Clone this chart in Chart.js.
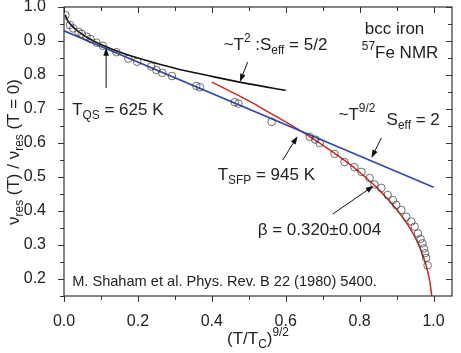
<!DOCTYPE html>
<html>
<head>
<meta charset="utf-8">
<script src="https://cdn.jsdelivr.net/npm/chart.js@4.4.1/dist/chart.umd.min.js"></script>
<style>
  body { margin: 0; background: #fff; }
  canvas { display: block; }
</style>
</head>
<body>
<canvas id="nmrChart" width="461" height="353"></canvas>
<script>
// tick labels
const xTicks = [0.0, 0.2, 0.4, 0.6, 0.8, 1.0];
const yTicks = [0.2, 0.3, 0.4, 0.5, 0.6, 0.7, 0.8, 0.9, 1.0];

// measured points: x = (T/Tc)^(9/2), y = nu(T)/nu(0)
const measX = [0.004, 0.016, 0.025, 0.039, 0.048, 0.061, 0.072, 0.088, 0.105, 0.142,
  0.174, 0.198, 0.236, 0.250, 0.266, 0.292, 0.358, 0.368, 0.462, 0.472,
  0.562, 0.665, 0.680, 0.692, 0.732, 0.759, 0.786, 0.805, 0.827, 0.840,
  0.859, 0.876, 0.890, 0.899, 0.913, 0.926, 0.940, 0.949, 0.958, 0.965,
  0.970, 0.974, 0.977, 0.980, 0.984];
const measY = [0.976, 0.947, 0.937, 0.927, 0.921, 0.913, 0.906, 0.895, 0.886, 0.867,
  0.848, 0.839, 0.825, 0.815, 0.806, 0.797, 0.768, 0.764, 0.720, 0.716,
  0.662, 0.618, 0.610, 0.600, 0.568, 0.544, 0.529, 0.515, 0.497, 0.478,
  0.468, 0.447, 0.432, 0.418, 0.403, 0.383, 0.369, 0.354, 0.334, 0.318,
  0.305, 0.290, 0.276, 0.262, 0.240];

// ~T^2 curve (black)
const t2X = [0.003, 0.01, 0.02, 0.04, 0.07, 0.10, 0.15, 0.20, 0.30, 0.40, 0.50, 0.60];
const t2Y = [0.977, 0.960, 0.946, 0.927, 0.906, 0.890, 0.868, 0.850, 0.820, 0.796, 0.774, 0.755];

// ~T^(9/2) line (blue)
const t92X = [0.0, 1.0];
const t92Y = [0.930, 0.470];

// critical curve, beta = 0.320 (red)
const critX = [0.40, 0.45, 0.50, 0.55, 0.60, 0.65, 0.70, 0.75, 0.80, 0.85, 0.90, 0.93, 0.95, 0.97, 0.98, 0.99, 0.996];
const critY = [0.779, 0.752, 0.724, 0.693, 0.662, 0.629, 0.594, 0.556, 0.514, 0.465, 0.405, 0.360, 0.323, 0.273, 0.240, 0.192, 0.143];

const pts = (xs, ys) => xs.map((x, i) => ({ x: x, y: ys[i] }));

const FONT = '"Liberation Sans", Arial, Helvetica, sans-serif';
const INK = '#222';

// annotations, positioned in data units
const labels = [
  { x: 0.022, y: 0.697, parts: [['T'], ['QS', 'sub'], [' = 625 K']] },
  { x: 0.432, y: 0.888, parts: [['~T'], ['2', 'sup'], [' :S'], ['eff', 'sub'], [' = 5/2']] },
  { x: 0.814, y: 0.935, parts: [['bcc iron']] },
  { x: 0.806, y: 0.865, parts: [['57', 'sup'], ['Fe NMR']] },
  { x: 0.743, y: 0.682, parts: [['~T'], ['9/2', 'sup']] },
  { x: 0.873, y: 0.668, parts: [['S'], ['eff', 'sub'], [' = 2']] },
  { x: 0.416, y: 0.506, parts: [['T'], ['SFP', 'sub'], [' = 945 K']] },
  { x: 0.524, y: 0.344, parts: [['\u03b2 = 0.320\u00b10.004']] },
  { x: 0.022, y: 0.191, parts: [['M. Shaham et al. Phys. Rev. B 22 (1980) 5400.']], size: 14.6 }
];

const arrows = [
  { x1: 0.114, y1: 0.762, x2: 0.114, y2: 0.880 },
  { x1: 0.497, y1: 0.838, x2: 0.476, y2: 0.780 },
  { x1: 0.859, y1: 0.615, x2: 0.832, y2: 0.556 },
  { x1: 0.592, y1: 0.550, x2: 0.632, y2: 0.620 },
  { x1: 0.727, y1: 0.391, x2: 0.838, y2: 0.474 }
];

function drawRich(ctx, parts, x, y, size, measureOnly) {
  let cx = x;
  parts.forEach(p => {
    const kind = p[1];
    const fs = kind ? size * 0.7 : size;
    ctx.font = fs + 'px ' + FONT;
    const dy = kind === 'sub' ? size * 0.32 : kind === 'sup' ? -size * 0.36 : 0;
    if (!measureOnly) ctx.fillText(p[0], cx, y + dy);
    cx += ctx.measureText(p[0]).width;
  });
  return cx - x;
}

function arrow(ctx, x1, y1, x2, y2) {
  const a = Math.atan2(y2 - y1, x2 - x1);
  const len = 8, half = 2.8;
  ctx.beginPath();
  ctx.moveTo(x1, y1);
  ctx.lineTo(x2 - Math.cos(a) * len * 0.8, y2 - Math.sin(a) * len * 0.8);
  ctx.stroke();
  ctx.beginPath();
  ctx.moveTo(x2, y2);
  ctx.lineTo(x2 - Math.cos(a) * len + Math.sin(a) * half, y2 - Math.sin(a) * len - Math.cos(a) * half);
  ctx.lineTo(x2 - Math.cos(a) * len - Math.sin(a) * half, y2 - Math.sin(a) * len + Math.cos(a) * half);
  ctx.closePath();
  ctx.fill();
}

// frame, minor/major ticks, annotations and axis titles
const decorPlugin = {
  id: 'decor',
  afterDraw(chart) {
    const ctx = chart.ctx;
    const xs = chart.scales.x, ys = chart.scales.y;
    const a = chart.chartArea;
    ctx.save();
    ctx.strokeStyle = '#333';
    ctx.fillStyle = INK;
    ctx.lineWidth = 1.2;
    ctx.strokeRect(a.left, a.top, a.right - a.left, a.bottom - a.top);

    ctx.lineWidth = 1;
    ctx.beginPath();
    for (let i = 0; i <= 10; i++) {
      const v = i / 10;
      const px = Math.round(xs.getPixelForValue(v)) + 0.5;
      const L = i % 2 === 0 ? 6 : 4;
      ctx.moveTo(px, a.bottom); ctx.lineTo(px, a.bottom + L);
      ctx.moveTo(px, a.top); ctx.lineTo(px, a.top + L);
    }
    for (let i = 0; i <= 16; i++) {
      const v = 0.2 + i * 0.05;
      if (v > 1.0001) break;
      const py = Math.round(ys.getPixelForValue(v)) + 0.5;
      const L = i % 2 === 0 ? 6 : 4;
      ctx.moveTo(a.left, py); ctx.lineTo(a.left - L, py);
      ctx.moveTo(a.right, py); ctx.lineTo(a.right - L, py);
    }
    const py15 = Math.round(ys.getPixelForValue(0.15)) + 0.5;
    ctx.moveTo(a.left, py15); ctx.lineTo(a.left - 4, py15);
    ctx.stroke();

    // arrows
    ctx.lineWidth = 1;
    ctx.strokeStyle = '#111';
    ctx.fillStyle = '#111';
    arrows.forEach(r => arrow(ctx,
      xs.getPixelForValue(r.x1), ys.getPixelForValue(r.y1),
      xs.getPixelForValue(r.x2), ys.getPixelForValue(r.y2)));

    // labels
    ctx.fillStyle = INK;
    ctx.textBaseline = 'middle';
    ctx.textAlign = 'left';
    labels.forEach(l => drawRich(ctx, l.parts,
      xs.getPixelForValue(l.x), ys.getPixelForValue(l.y), l.size || 17));

    // x title
    const xt = [['(T/T'], ['C', 'sub'], [')'], ['9/2', 'sup']];
    const wx = drawRich(ctx, xt, 0, 0, 17, true);
    drawRich(ctx, xt, (a.left + a.right) / 2 - wx / 2, 339, 17);

    // y title
    const yt = [['\u03bd'], ['res', 'sub'], [' (T) / \u03bd'], ['res', 'sub'], [' (T = 0)']];
    const wy = drawRich(ctx, yt, 0, 0, 17, true);
    ctx.translate(14, 152);
    ctx.rotate(-Math.PI / 2);
    drawRich(ctx, yt, -wy / 2, 0, 17);
    ctx.restore();
  }
};

new Chart(document.getElementById('nmrChart').getContext('2d'), {
  type: 'scatter',
  data: {
    datasets: [
      {
        label: 'data',
        data: pts(measX, measY),
        showLine: false,
        pointRadius: 3.8,
        pointBorderWidth: 0.7,
        pointBorderColor: '#333',
        pointBackgroundColor: 'rgba(255,255,255,0)'
      },
      {
        label: 'T2',
        data: pts(t2X, t2Y),
        showLine: true,
        borderColor: '#111',
        borderWidth: 1.6,
        pointRadius: 0,
        cubicInterpolationMode: 'monotone'
      },
      {
        label: 'T92',
        data: pts(t92X, t92Y),
        showLine: true,
        borderColor: '#3447a8',
        borderWidth: 1.6,
        pointRadius: 0
      },
      {
        label: 'crit',
        data: pts(critX, critY),
        showLine: true,
        borderColor: '#cc2a1e',
        borderWidth: 1.5,
        pointRadius: 0,
        cubicInterpolationMode: 'monotone'
      }
    ]
  },
  options: {
    responsive: false,
    animation: false,
    layout: { padding: { top: 7, right: 9, left: 0, bottom: 0 } },
    plugins: { legend: { display: false }, tooltip: { enabled: false } },
    scales: {
      x: {
        type: 'linear',
        min: 0,
        max: 1.05,
        grid: { display: false },
        border: { display: false },
        afterFit: s => { s.height = 57; s.paddingLeft = 0; s.paddingRight = 0; },
        afterBuildTicks: s => { s.ticks = xTicks.map(v => ({ value: v })); },
        ticks: {
          padding: 8,
          color: INK,
          font: { family: FONT, size: 16 },
          maxRotation: 0,
          callback: v => v.toFixed(1)
        }
      },
      y: {
        type: 'linear',
        min: 0.15,
        max: 1.0,
        grid: { display: false },
        border: { display: false },
        afterFit: s => { s.width = 64; s.paddingTop = 0; s.paddingBottom = 0; },
        afterBuildTicks: s => { s.ticks = yTicks.map(v => ({ value: v })); },
        ticks: {
          padding: 10,
          color: INK,
          font: { family: FONT, size: 16 },
          callback: v => v.toFixed(1)
        }
      }
    }
  },
  plugins: [decorPlugin]
});
</script>
</body>
</html>
